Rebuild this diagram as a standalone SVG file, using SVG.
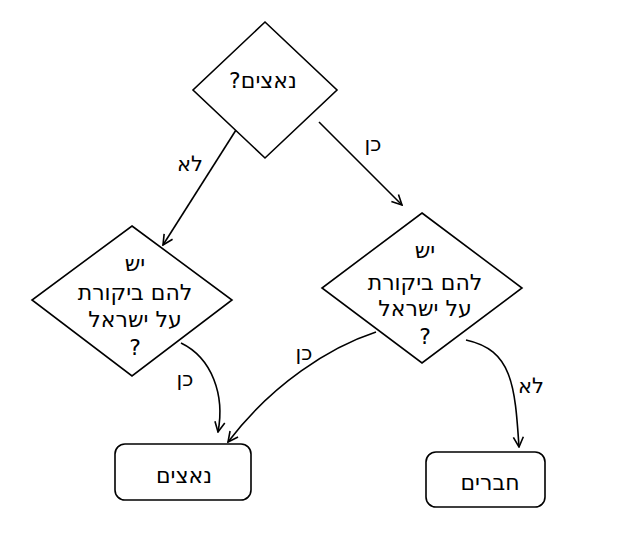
<svg xmlns="http://www.w3.org/2000/svg" width="618" height="541" viewBox="0 0 618 541">
<style>
.shape{fill:#fff;stroke:#000;stroke-width:1.6}
.t{font-family:"DejaVu Sans",sans-serif;font-size:22px;fill:#000;text-anchor:middle;direction:rtl}
.lbl{font-family:"DejaVu Sans",sans-serif;font-size:21px;fill:#000;text-anchor:middle;direction:rtl}
.c{fill:none;stroke:#000;stroke-width:1.6;marker-end:url(#arr)}
</style>
<defs>
<marker id="arr" viewBox="0 0 12 12" refX="11" refY="6" markerWidth="12" markerHeight="12" markerUnits="userSpaceOnUse" orient="auto">
<path d="M1,1 L11,6 L1,11" fill="none" stroke="#000" stroke-width="1.6"/>
</marker>
</defs>
<rect width="618" height="541" fill="#fff"/>
<g id="connectors">
<path class="c" d="M236,130 L163,245"/>
<path class="c" d="M319,122 L402,205"/>
<path class="c" d="M181,343 C212,358 225,395 218,432"/>
<path class="c" d="M376,332 C330,347 272,384 228,442"/>
<path class="c" d="M466,340 C512,350 515,385 519,447"/>
<text class="lbl" x="190" y="171">לא</text>
<text class="lbl" x="373" y="151">כן</text>
<text class="lbl" x="185" y="386">כן</text>
<text class="lbl" x="304" y="360">כן</text>
<text class="lbl" x="531" y="393">לא</text>
</g>
<g id="q1">
<polygon class="shape" points="265,22 337,90 265,158 193,90"/>
<text class="t" x="263" y="88">נאצים?</text>
</g>
<g id="q2">
<polygon class="shape" points="132,226 232,300 132,376 32,300"/>
<text class="t" x="135" y="271">יש</text>
<text class="t" x="135" y="300">להם ביקורת</text>
<text class="t" x="135" y="327">על ישראל</text>
<text class="t" x="135" y="355">?</text>
</g>
<g id="q3">
<polygon class="shape" points="422,213 522,288 422,363 322,288"/>
<text class="t" x="425" y="258">יש</text>
<text class="t" x="425" y="290">להם ביקורת</text>
<text class="t" x="425" y="316">על ישראל</text>
<text class="t" x="425" y="344">?</text>
</g>
<g id="nazis">
<rect class="shape" x="115" y="444" width="136" height="56" rx="10"/>
<text class="t" x="184" y="483">נאצים</text>
</g>
<g id="friends">
<rect class="shape" x="426" y="452" width="119" height="55" rx="10"/>
<text class="t" x="490" y="490">חברים</text>
</g>
</svg>
